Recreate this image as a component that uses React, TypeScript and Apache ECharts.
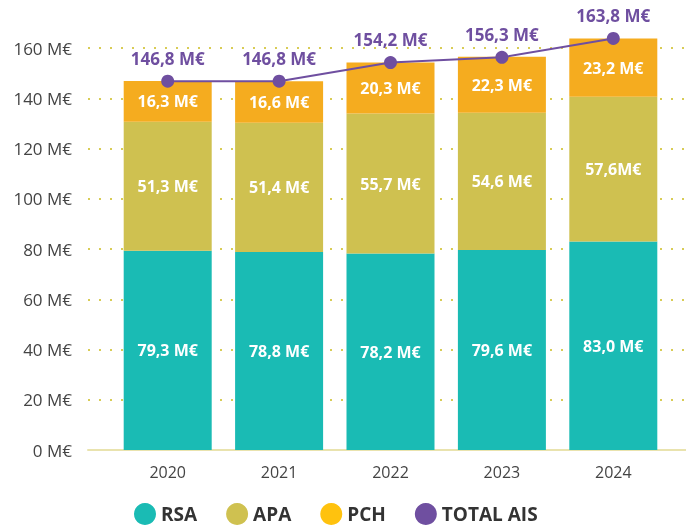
import React, { useEffect, useRef } from "react";
import * as echarts from "echarts";

const years = ["2020", "2021", "2022", "2023", "2024"];
const rsa = [79.3, 78.8, 78.2, 79.6, 83.0];
const apa = [51.3, 51.4, 55.7, 54.6, 57.6];
const pch = [16.3, 16.6, 20.3, 22.3, 23.2];
const total = [146.8, 146.8, 154.2, 156.3, 163.8];
const apaLabels = ["51,3 M€", "51,4 M€", "55,7 M€", "54,6 M€", "57,6M€"];

const FONT = "'Open Sans', 'Noto Sans', sans-serif";
const fmt = (v: number) => v.toFixed(1).replace(".", ",") + " M€";

export default function App() {
  const ref = useRef<HTMLDivElement>(null);
  useEffect(() => {
    const chart = echarts.init(ref.current!, undefined, { renderer: "svg" });
    const inner = {
      show: true,
      position: "inside",
      color: "#ffffff",
      fontWeight: "bold",
      fontSize: 16,
      fontFamily: FONT,
    };
    chart.setOption({
      animation: false,
      textStyle: { fontFamily: FONT },
      grid: [
        { left: 88, right: 0, top: 48, bottom: 76 },
        { left: 112, right: 17, top: 22.875, bottom: 76 },
      ],
      xAxis: [
        {
          gridIndex: 0,
          type: "value",
          min: 0,
          max: 1,
          axisLine: { show: true, lineStyle: { color: "#E9E3AE", width: 2 } },
          axisTick: { show: false },
          axisLabel: { show: false },
          splitLine: { show: false },
        },
        {
          gridIndex: 1,
          type: "category",
          data: years,
          axisLine: { show: false },
          axisTick: { show: false },
          axisLabel: { color: "#444", fontSize: 16, margin: 14, fontFamily: FONT },
        },
      ],
      yAxis: [
        {
          gridIndex: 0,
          type: "value",
          min: 0,
          max: 160,
          interval: 20,
          axisLine: { show: false },
          axisTick: { show: false },
          axisLabel: {
            color: "#444",
            fontSize: 17,
            margin: 16,
            fontFamily: FONT,
            formatter: (v: number) => v + " M€",
          },
          splitLine: {
            show: true,
            lineStyle: { color: "#D8CC55", width: 2, type: [2, 9] },
          },
        },
        {
          gridIndex: 1,
          type: "value",
          min: 0,
          max: 170,
          show: false,
          splitLine: { show: false },
        },
      ],
      legend: {
        bottom: -4,
        left: 129,
        itemWidth: 22,
        itemHeight: 22,
        itemGap: 29,
        icon: "circle",
        textStyle: { color: "#333", fontSize: 19, fontWeight: "bold", fontFamily: FONT },
        data: [
          { name: "RSA" },
          { name: "APA" },
          { name: "PCH", itemStyle: { color: "#FFC20E" } },
          { name: "TOTAL AIS" },
        ],
      },
      series: [
        {
          name: "RSA",
          type: "bar",
          stack: "s",
          xAxisIndex: 1,
          yAxisIndex: 1,
          barWidth: 88,
          itemStyle: { color: "#1ABBB4" },
          label: { ...inner, formatter: (p: any) => fmt(p.value) },
          data: rsa,
        },
        {
          name: "APA",
          type: "bar",
          stack: "s",
          xAxisIndex: 1,
          yAxisIndex: 1,
          barWidth: 88,
          itemStyle: { color: "#CFC150" },
          label: { ...inner, formatter: (p: any) => apaLabels[p.dataIndex] },
          data: apa,
        },
        {
          name: "PCH",
          type: "bar",
          stack: "s",
          xAxisIndex: 1,
          yAxisIndex: 1,
          barWidth: 88,
          itemStyle: { color: "#F5AC1F" },
          label: { ...inner, formatter: (p: any) => fmt(p.value) },
          data: pch,
        },
        {
          name: "TOTAL AIS",
          type: "line",
          xAxisIndex: 1,
          yAxisIndex: 1,
          clip: false,
          z: 10,
          symbol: "circle",
          symbolSize: 13,
          itemStyle: { color: "#6F4FA0" },
          lineStyle: { color: "#6F4FA0", width: 2 },
          label: {
            show: true,
            position: "top",
            distance: 8,
            color: "#6F4FA0",
            fontWeight: "bold",
            fontSize: 17,
            fontFamily: FONT,
            formatter: (p: any) => fmt(p.value),
          },
          data: total,
        },
      ],
    });
    return () => chart.dispose();
  }, []);
  return (
    <div
      ref={ref}
      style={{ position: "fixed", left: 0, top: 0, width: 686, height: 526 }}
    />
  );
}
